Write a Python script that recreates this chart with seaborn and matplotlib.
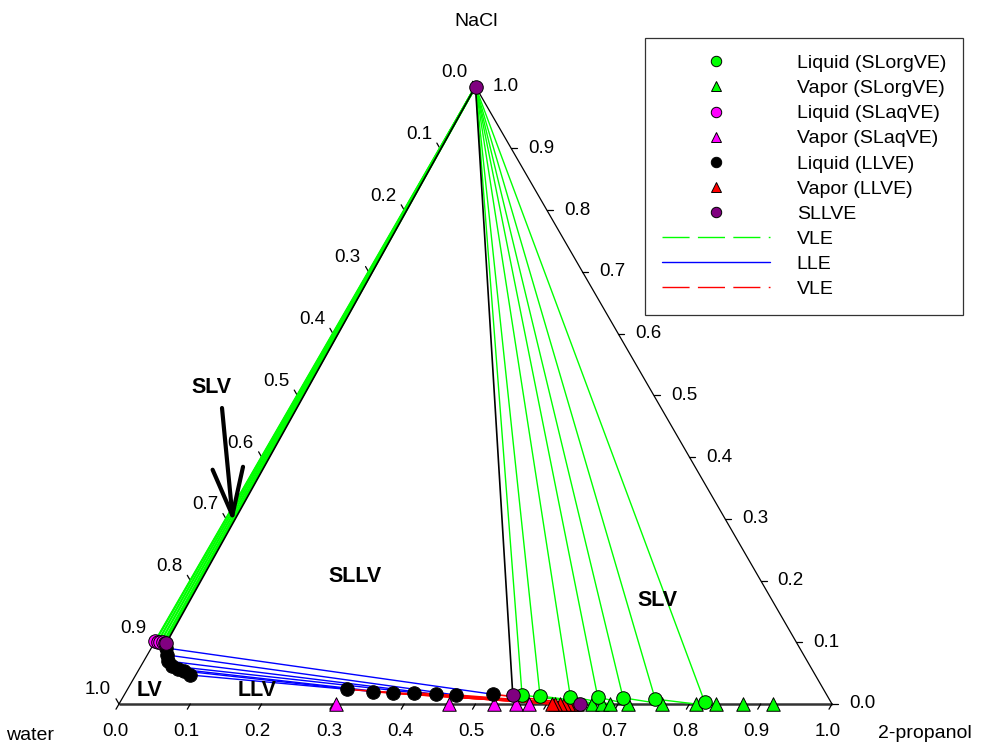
import numpy as np
import pandas as pd
import matplotlib
matplotlib.use("Agg")
import matplotlib.pyplot as plt
import seaborn as sns
from matplotlib.lines import Line2D

sns.set_theme(style="white")
plt.rcParams['font.family'] = ['Liberation Sans', 'DejaVu Sans']
plt.rcParams['text.color'] = 'black'

# Compositions as mole fractions: p = 2-propanol, n = NaCl (water = 1 - p - n)

# Solid + organic liquid + vapor
slorg_liq_p = [0.558, 0.584, 0.627, 0.666, 0.702, 0.748, 0.820]
slorg_liq_n = [0.0146, 0.0130, 0.0120, 0.0110, 0.0100, 0.0080, 0.0030]
slorg_vap_p = [0.663, 0.677, 0.689, 0.714, 0.762, 0.809, 0.837, 0.875, 0.917]
slorg_vap_n = [0.0, 0.0, 0.0, 0.0, 0.0, 0.0, 0.0, 0.0, 0.0]

# Solid + aqueous liquid + vapor
slaq_liq_p = [0.000, 0.004, 0.008, 0.012, 0.015]
slaq_liq_n = [0.102, 0.101, 0.100, 0.100, 0.099]
slaq_vap_p = [0.305, 0.463, 0.526, 0.557, 0.575]
slaq_vap_n = [0.0, 0.0, 0.0, 0.0, 0.0]

# Liquid + liquid + vapor: aqueous phase, organic phase, vapor
llve_aq_p = [0.0206, 0.0276, 0.0339, 0.0436, 0.0544, 0.0645, 0.0761]
llve_aq_n = [0.0907, 0.0794, 0.0696, 0.0615, 0.0567, 0.0534, 0.0470]
llve_org_p = [0.517, 0.465, 0.437, 0.405, 0.376, 0.346, 0.3075]
llve_org_n = [0.0157, 0.0146, 0.0157, 0.0183, 0.0173, 0.0199, 0.0238]
llve_vap_p = [0.642, 0.636, 0.630, 0.624, 0.618, 0.612, 0.607]
llve_vap_n = [0.0, 0.0, 0.0, 0.0, 0.0, 0.0, 0.0]

# Four-phase points: solid NaCl, aqueous liquid, organic liquid, vapor
sllve_p = [0.0, 0.017, 0.545, 0.647]
sllve_n = [1.0, 0.099, 0.0146, 0.0]

tick_values = [0.0, 0.1, 0.2, 0.3, 0.4, 0.5, 0.6, 0.7, 0.8, 0.9, 1.0]

H = np.sqrt(3) / 2
PX = 713.0  # pixels per unit side length


def cart(p, n):
    p = np.asarray(p, float)
    n = np.asarray(n, float)
    return p + n / 2, n * H


fig = plt.figure(figsize=(10, 7.49), dpi=100)
ax = fig.add_axes([0, 0, 1, 1])
ax.set_xlim(-119 / PX, (1000 - 119) / PX)
ax.set_ylim(-(749 - 704) / PX, 704 / PX)
ax.axis("off")

GREEN = "#00ff00"
MAGENTA = "#ff00ff"
PURPLE = "#800080"
apex = cart(0, 1)  # pure NaCl corner

# Triangle frame
ax.plot([0, 1], [0, 0], color="#333333", lw=1.8, zorder=2, solid_capstyle="butt")
ax.plot([0, 0.5], [0, H], color="black", lw=0.9, zorder=2)
ax.plot([1, 0.5], [0, H], color="black", lw=0.9, zorder=2)

# Ticks and tick labels
L = 6 / PX
FS = 13.5
for v in tick_values:
    # bottom axis: 2-propanol
    bx, by = v, 0.0
    ax.plot([bx, bx - 0.5 * L], [by, by - H * L], color="black", lw=0.9)
    ax.text(bx - 4 / PX, by - 28 / PX, f"{v:.1f}", ha="center", va="center", fontsize=FS)
    # right axis: NaCl
    rx, ry = cart(1 - v, v)
    ax.plot([rx, rx + L], [ry, ry], color="black", lw=0.9)
    ax.text(rx + 17 / PX, ry, f"{v:.1f}", ha="left", va="center", fontsize=FS)
    # left axis: water
    lx, ly = cart(0, 1 - v)
    ax.plot([lx, lx - 0.5 * L], [ly, ly + H * L], color="black", lw=0.9)
    ax.text(lx - 21 / PX, ly + 14 / PX, f"{v:.1f}", ha="center", va="center", fontsize=FS)

# Solid-liquid tie lines from the NaCl corner
for p, n in zip(slaq_liq_p, slaq_liq_n):
    x, y = cart(p, n)
    ax.plot([apex[0], x], [apex[1], y], color=GREEN, lw=1.6, zorder=3)
for p, n in zip(slorg_liq_p, slorg_liq_n):
    x, y = cart(p, n)
    ax.plot([apex[0], x], [apex[1], y], color=GREEN, lw=1.0, zorder=3)

# Vapor-liquid tie lines on the organic side
for p1, n1, p2, n2 in zip(slorg_liq_p, slorg_liq_n, slorg_vap_p, slorg_vap_n):
    x1, y1 = cart(p1, n1)
    x2, y2 = cart(p2, n2)
    ax.plot([x1, x2], [y1, y2], color=GREEN, lw=1.0, zorder=3)

# Liquid-liquid tie lines
for p1, n1, p2, n2 in zip(llve_aq_p, llve_aq_n, llve_org_p, llve_org_n):
    x1, y1 = cart(p1, n1)
    x2, y2 = cart(p2, n2)
    ax.plot([x1, x2], [y1, y2], color="blue", lw=1.0, zorder=3)

# Vapor-liquid tie lines of the two-liquid region
for p1, n1, p2, n2 in zip(llve_org_p, llve_org_n, llve_vap_p, llve_vap_n):
    x1, y1 = cart(p1, n1)
    x2, y2 = cart(p2, n2)
    ax.plot([x1, x2], [y1, y2], color="red", lw=1.2, zorder=3)

# Boundaries of the four-phase triangle
for i in (1, 2):
    x, y = cart(sllve_p[i], sllve_n[i])
    ax.plot([apex[0], x], [apex[1], y], color="black", lw=1.2, zorder=3)


def scatter(p, n, marker, color, z):
    x, y = cart(p, n)
    df = pd.DataFrame({"x": x, "y": y})
    sns.scatterplot(data=df, x="x", y="y", marker=marker, color=color, s=95,
                    edgecolor="black", linewidth=0.7, ax=ax, zorder=z, legend=False)


scatter(slaq_vap_p, slaq_vap_n, "^", MAGENTA, 5)
scatter(llve_vap_p, llve_vap_n, "^", "red", 5)
scatter(slorg_vap_p, slorg_vap_n, "^", GREEN, 6)
scatter(llve_aq_p, llve_aq_n, "o", "black", 6)
scatter(llve_org_p, llve_org_n, "o", "black", 6)
scatter(slaq_liq_p, slaq_liq_n, "o", MAGENTA, 6)
scatter(slorg_liq_p, slorg_liq_n, "o", GREEN, 7)
scatter(sllve_p, sllve_n, "o", PURPLE, 8)
ax.set_xlabel("")
ax.set_ylabel("")

# Corner names
ax.text(0.5 + 1 / PX, (704 - 22) / PX, "NaCl", ha="center", va="center", fontsize=14)
ax.text(-89 / PX, -31 / PX, "water", ha="center", va="center", fontsize=14)
ax.text(1.13, -29 / PX, "2-propanol", ha="center", va="center", fontsize=14)

# Region labels
bold = dict(fontsize=15.5, fontweight="bold", ha="center", va="center")
ax.text((212 - 119) / PX, (704 - 388) / PX, "SLV", **bold)
ax.text((355 - 119) / PX, (704 - 577) / PX, "SLLV", **bold)
ax.text((658 - 119) / PX, (704 - 601) / PX, "SLV", **bold)
ax.text((150 - 119) / PX, (704 - 690) / PX, "LV", **bold)
ax.text((257 - 119) / PX, (704 - 690) / PX, "LLV", **bold)
ax.annotate("", xy=((233 - 119) / PX, (704 - 522) / PX),
            xytext=((222 - 119) / PX, (704 - 408) / PX),
            arrowprops=dict(arrowstyle="->,head_length=1.7,head_width=0.55",
                            color="black", lw=3, mutation_scale=20,
                            shrinkA=0, shrinkB=0))

# Legend
ms = 7.5
handles = [
    Line2D([], [], ls="none", marker="o", mfc=GREEN, mec="black", mew=0.7, ms=ms),
    Line2D([], [], ls="none", marker="^", mfc=GREEN, mec="black", mew=0.7, ms=ms),
    Line2D([], [], ls="none", marker="o", mfc=MAGENTA, mec="black", mew=0.7, ms=ms),
    Line2D([], [], ls="none", marker="^", mfc=MAGENTA, mec="black", mew=0.7, ms=ms),
    Line2D([], [], ls="none", marker="o", mfc="black", mec="black", mew=0.7, ms=ms),
    Line2D([], [], ls="none", marker="^", mfc="red", mec="black", mew=0.7, ms=ms),
    Line2D([], [], ls="none", marker="o", mfc=PURPLE, mec="black", mew=0.7, ms=ms),
    Line2D([], [], color=GREEN, lw=1.0, ls=(0, (19.5, 6))),
    Line2D([], [], color="blue", lw=1.0),
    Line2D([], [], color="red", lw=1.0, ls=(0, (19.5, 6))),
]
labels = ["Liquid (SLorgVE)", "Vapor (SLorgVE)", "Liquid (SLaqVE)", "Vapor (SLaqVE)",
          "Liquid (LLVE)", "Vapor (LLVE)", "SLLVE", "VLE", "LLE", "VLE"]
leg = fig.legend(handles, labels, loc="upper left",
                 bbox_to_anchor=(0.645, 1 - 38 / 749, 0.318, 0.0), mode="expand",
                 fontsize=14, frameon=True, fancybox=False, edgecolor="black",
                 borderaxespad=0, borderpad=0.85, handlelength=5.56, handletextpad=1.39,
                 labelspacing=0.385, handleheight=0.7)
leg.get_frame().set_linewidth(0.9)

fig.savefig("out.png", dpi=100)
